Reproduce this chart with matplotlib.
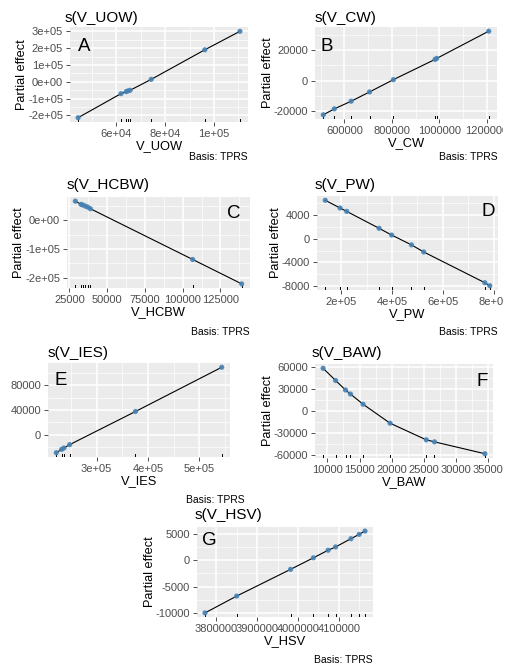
import matplotlib
matplotlib.use("Agg")
import matplotlib.pyplot as plt
from matplotlib.ticker import AutoMinorLocator
from matplotlib.transforms import Bbox, TransformedBbox

plt.rcParams['font.family'] = ['Liberation Sans', 'DejaVu Sans']

# data
uow_x = [44270, 61870, 64000, 64670, 65600, 74270, 96270, 110670]
uow_y = [-214000, -71000, -59000, -55000, -51000, 14000, 190000, 300000]

cw_x = [511000, 557600, 628300, 706000, 806400, 981600, 988700, 1207800]
cw_y = [-22400, -18500, -13500, -7400, 650, 13900, 14560, 32400]

hcbw_x = [28970, 32720, 33830, 35590, 37140, 38900, 106650, 139080]
hcbw_y = [66300, 55000, 53000, 49000, 45700, 40000, -137000, -222000]

pw_x = [137700, 196100, 222100, 349400, 398700, 476600, 524700, 764900, 784400]
pw_y = [6510, 5200, 4630, 1770, 630, -1030, -2230, -7430, -7940]

ies_x = [221600, 232000, 236600, 247700, 375800, 543800]
ies_y = [-28840, -23400, -21200, -15800, 37550, 108800]

baw_x = [9334, 11280, 12820, 13590, 15550, 19750, 25380, 26660, 34500]
baw_y = [58150, 41540, 28620, 23080, 9230, -16600, -39230, -42000, -58150]

hsv_x = [3772000, 3849600, 3981600, 4037600, 4073600, 4092000, 4129600, 4149600, 4164000]
hsv_y = [-10000, -6810, -1750, 440, 1875, 2500, 4060, 4875, 5500]

uow_xt = [6e4, 8e4, 1e5]
uow_xl = ['6e+04', '8e+04', '1e+05']
uow_yt = [-2e5, -1e5, 0, 1e5, 2e5, 3e5]
uow_yl = ['-2e+05', '-1e+05', '0e+00', '1e+05', '2e+05', '3e+05']

cw_xt = [6e5, 8e5, 1e6, 1.2e6]
cw_xl = ['600000', '800000', '1000000', '1200000']
cw_yt = [-20000, 0, 20000]
cw_yl = ['-20000', '0', '20000']

hcbw_xt = [25000, 50000, 75000, 100000, 125000]
hcbw_xl = ['25000', '50000', '75000', '100000', '125000']
hcbw_yt = [-2e5, -1e5, 0]
hcbw_yl = ['-2e+05', '-1e+05', '0e+00']

pw_xt = [2e5, 4e5, 6e5, 8e5]
pw_xl = ['2e+05', '4e+05', '6e+05', '8e+05']
pw_yt = [-8000, -4000, 0, 4000]
pw_yl = ['-8000', '-4000', '0', '4000']

ies_xt = [3e5, 4e5, 5e5]
ies_xl = ['3e+05', '4e+05', '5e+05']
ies_yt = [0, 40000, 80000]
ies_yl = ['0', '40000', '80000']

baw_xt = [10000, 15000, 20000, 25000, 30000, 35000]
baw_xl = ['10000', '15000', '20000', '25000', '30000', '35000']
baw_yt = [-60000, -30000, 0, 30000, 60000]
baw_yl = ['-60000', '-30000', '0', '30000', '60000']

hsv_xt = [3800000, 3900000, 4000000, 4100000]
hsv_xl = ['3800000', '3900000', '4000000', '4100000']
hsv_yt = [-10000, -5000, 0, 5000]
hsv_yl = ['-10000', '-5000', '0', '5000']

W, H = 513, 665
fig = plt.figure(figsize=(W / 100, H / 100), dpi=100)

PT_COL = '#4682B4'


def panel(box, xs, ys, xt, xl, yt, yl, name, letter, letter_pos, title_pos,
          caption_pos, ylabel=True):
    x0, y0, x1, y1 = box
    ax = fig.add_axes([x0 / W, 1 - y1 / H, (x1 - x0) / W, (y1 - y0) / H])
    ax.set_facecolor('#EBEBEB')
    for s in ax.spines.values():
        s.set_visible(False)
    ax.plot(xs, ys, color='black', lw=0.8, zorder=3)
    ax.scatter(xs, ys, s=14, color=PT_COL, alpha=0.9, edgecolors='none', zorder=4)
    # rug
    for xv in xs:
        ax.plot([xv, xv], [0, 0.03], color='black', lw=0.7,
                transform=ax.get_xaxis_transform(), zorder=2)
    ax.set_xticks(xt)
    ax.set_xticklabels(xl)
    ax.set_yticks(yt)
    ax.set_yticklabels(yl)
    ax.xaxis.set_minor_locator(AutoMinorLocator(2))
    ax.yaxis.set_minor_locator(AutoMinorLocator(2))
    ax.grid(which='major', color='white', lw=1.1)
    ax.grid(which='minor', color='white', lw=0.5)
    ax.set_axisbelow(True)
    ax.tick_params(which='major', length=3, width=0.6, color='#333333',
                   labelcolor='#4D4D4D', labelsize=8, pad=2)
    ax.tick_params(which='minor', length=0)
    ax.set_xlabel(name, fontsize=9.3, labelpad=1)
    if ylabel:
        ax.set_ylabel('Partial effect', fontsize=9.2, labelpad=0)
    fig.text(title_pos[0] / W, 1 - title_pos[1] / H, 's(' + name + ')',
             fontsize=11, ha='left', va='center')
    fig.text(letter_pos[0] / W, 1 - letter_pos[1] / H, letter,
             fontsize=13.5, ha=letter_pos[2], va='top')
    if caption_pos is not None:
        fig.text(caption_pos[0] / W, 1 - caption_pos[1] / H, 'Basis: TPRS',
                 fontsize=7.5, ha='right', va='center')
    clip = TransformedBbox(Bbox.from_extents(0, 0, 503 / W, 1), fig.transFigure)
    for lab in ax.get_xticklabels():
        lab.set_clip_box(clip)
        lab.set_clip_on(True)
    return ax


panel((70, 27, 248, 122), uow_x, uow_y, uow_xt, uow_xl, uow_yt, uow_yl,
      'V_UOW', 'A', (78, 38, 'left'), (65, 18), (248, 157))
panel((315, 27, 497, 119), cw_x, cw_y, cw_xt, cw_xl, cw_yt, cw_yl,
      'V_CW', 'B', (320, 38, 'left'), (315, 18), (498, 157))
panel((67, 197, 250, 288), hcbw_x, hcbw_y, hcbw_xt, hcbw_xl, hcbw_yt, hcbw_yl,
      'V_HCBW', 'C', (240, 205, 'right'), (67, 185), (250, 332))
panel((317, 196, 498, 290), pw_x, pw_y, pw_xt, pw_xl, pw_yt, pw_yl,
      'V_PW', 'D', (495, 203, 'right'), (315, 185), (498, 332))
# the y label of this panel falls outside the picture in the reference
panel((48, 363, 230, 457), ies_x, ies_y, ies_xt, ies_xl, ies_yt, ies_yl,
      'V_IES', 'E', (55, 372, 'left'), (48, 353), (245, 500), ylabel=False)
panel((315, 364, 493, 458), baw_x, baw_y, baw_xt, baw_xl, baw_yt, baw_yl,
      'V_BAW', 'F', (488, 373, 'right'), (312, 353), None)
panel((197, 527, 373, 617), hsv_x, hsv_y, hsv_xt, hsv_xl, hsv_yt, hsv_yl,
      'V_HSV', 'G', (202, 532, 'left'), (195, 515), (373, 660))

fig.savefig('out.png', dpi=100)
